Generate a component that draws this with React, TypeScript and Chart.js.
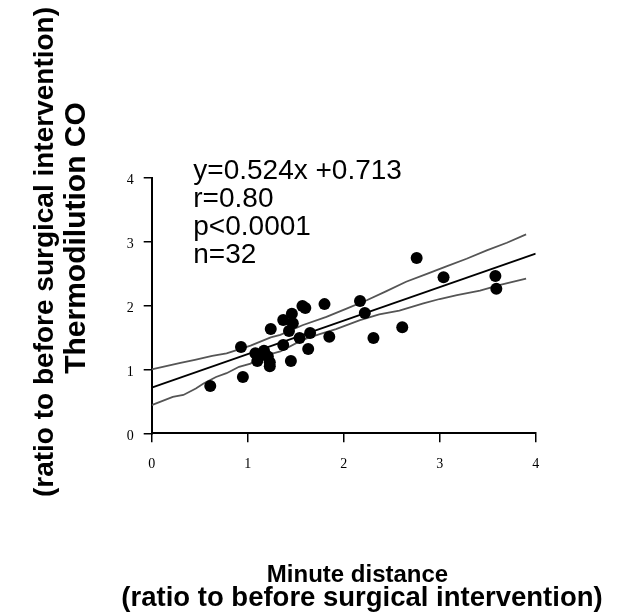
import React, { useEffect, useRef } from "react";
import { Chart, registerables } from "chart.js";

Chart.register(...registerables);

// Observed data points (ratio to before surgical intervention)
const minuteDistance = [
  0.61, 0.95, 0.93, 1.08, 1.10, 1.17, 1.21, 1.23, 1.23, 1.24, 1.37, 1.37, 1.46, 1.47, 1.43, 1.45,
  1.57, 1.60, 1.54, 1.65, 1.63, 1.80, 1.85, 2.17, 2.22, 2.31, 2.61, 2.76, 3.04, 3.58, 3.59, 1.15,
];
const thermodilutionCO = [
  0.74, 0.88, 1.35, 1.25, 1.13, 1.29, 1.20, 1.11, 1.05, 1.63, 1.38, 1.77, 1.87, 1.72, 1.60, 1.13,
  1.99, 1.96, 1.49, 1.57, 1.32, 2.02, 1.51, 2.07, 1.88, 1.49, 1.66, 2.74, 2.44, 2.46, 2.26, 1.23,
];

// Regression line y = 0.524x + 0.713 (end points)
const regressionX = [0, 4];
const regressionY = [0.713, 2.809];

// Confidence band
const upperBandX = [0, 0.3, 0.45, 0.63, 0.78, 1.03, 1.24, 1.34, 1.57, 1.82, 2.03, 2.24, 2.44, 2.65, 2.86, 3.07, 3.28, 3.49, 3.7, 3.9];
const upperBandY = [1.0, 1.1, 1.15, 1.21, 1.25, 1.37, 1.5, 1.54, 1.69, 1.82, 1.95, 2.08, 2.22, 2.37, 2.49, 2.61, 2.73, 2.86, 2.98, 3.11];
const lowerBandX = [0, 0.22, 0.33, 0.46, 0.54, 0.67, 0.78, 0.91, 1.03, 1.12, 1.34, 1.57, 1.75, 1.92, 2.17, 2.37, 2.58, 2.83, 3.0, 3.18, 3.42, 3.63, 3.9];
const lowerBandY = [0.44, 0.57, 0.6, 0.7, 0.78, 0.88, 0.94, 1.04, 1.09, 1.19, 1.28, 1.46, 1.55, 1.63, 1.77, 1.86, 1.92, 2.03, 2.1, 2.16, 2.23, 2.32, 2.42];

const xTickValues = [0, 1, 2, 3, 4];
const yTickValues = [0, 1, 2, 3, 4];

const statsLines = ["y=0.524x +0.713", "r=0.80", "p<0.0001", "n=32"];
const xTitleLines = ["Minute distance", "(ratio to before surgical intervention)"];
const yTitleLines = ["Thermodilution CO", "(ratio to before surgical intervention)"];

const W = 631;
const H = 612;

const zip = (xs: number[], ys: number[]) => xs.map((x, i) => ({ x, y: ys[i] }));

const textPlugin = {
  id: "texts",
  afterDraw(chart: any) {
    const ctx = chart.ctx as CanvasRenderingContext2D;
    const ca = chart.chartArea;
    ctx.save();
    ctx.fillStyle = "#000";
    // statistics annotation
    ctx.font = "28px 'Liberation Sans', Arial, sans-serif";
    ctx.textAlign = "left";
    ctx.textBaseline = "alphabetic";
    statsLines.forEach((t, i) => {
      ctx.fillText(t, ca.left + 41.6, ca.top + 1.8 + i * 28);
    });
    // x title
    ctx.textAlign = "center";
    ctx.font = "bold 24px 'Liberation Sans', Arial, sans-serif";
    ctx.fillText(xTitleLines[0], 357.5, 582);
    ctx.font = "bold 27.5px 'Liberation Sans', Arial, sans-serif";
    ctx.fillText(xTitleLines[1], 362, 606);
    // y title (rotated)
    ctx.save();
    ctx.translate(85, 238);
    ctx.rotate(-Math.PI / 2);
    ctx.font = "bold 30px 'Liberation Sans', Arial, sans-serif";
    ctx.fillText(yTitleLines[0], 0, 0);
    ctx.restore();
    ctx.save();
    ctx.translate(52.5, 252);
    ctx.rotate(-Math.PI / 2);
    ctx.font = "bold 28px 'Liberation Sans', Arial, sans-serif";
    ctx.fillText(yTitleLines[1], 0, 0);
    ctx.restore();
    ctx.restore();
  },
};

export default function App() {
  const ref = useRef<HTMLCanvasElement | null>(null);
  useEffect(() => {
    if (!ref.current) return;
    const chart = new Chart(ref.current, {
      type: "scatter",
      data: {
        datasets: [
          {
            label: "points",
            data: zip(minuteDistance, thermodilutionCO),
            backgroundColor: "#000",
            borderWidth: 0,
            pointRadius: 6,
            order: 0,
          },
          {
            label: "regression",
            data: zip(regressionX, regressionY),
            showLine: true,
            borderColor: "#000",
            borderWidth: 1.8,
            pointRadius: 0,
            order: 1,
          },
          {
            label: "upper",
            data: zip(upperBandX, upperBandY),
            showLine: true,
            borderColor: "#555",
            borderWidth: 1.8,
            pointRadius: 0,
            order: 2,
          },
          {
            label: "lower",
            data: zip(lowerBandX, lowerBandY),
            showLine: true,
            borderColor: "#555",
            borderWidth: 1.8,
            pointRadius: 0,
            order: 2,
          },
        ],
      },
      options: {
        responsive: false,
        animation: false,
        layout: { padding: { left: 0, top: 177.5, right: W - 535.7, bottom: 0 } },
        plugins: { legend: { display: false }, tooltip: { enabled: false } },
        scales: {
          x: {
            type: "linear",
            min: 0,
            max: 4,
            afterBuildTicks: (s: any) => {
              s.ticks = xTickValues.map((v) => ({ value: v }));
            },
            ticks: {
              font: { family: "'Liberation Serif', 'Times New Roman', serif", size: 14 },
              color: "#000",
              padding: 14,
              maxRotation: 0,
            },
            grid: { drawOnChartArea: false, drawTicks: true, tickLength: 9, color: "#000", lineWidth: 1.5 },
            border: { color: "#000", width: 2 },
            afterFit: (s: any) => {
              s.height = H - 433.3;
            },
          },
          y: {
            type: "linear",
            min: 0,
            max: 4,
            afterBuildTicks: (s: any) => {
              s.ticks = yTickValues.map((v) => ({ value: v }));
            },
            ticks: {
              font: { family: "'Liberation Serif', 'Times New Roman', serif", size: 14 },
              color: "#000",
              padding: 10,
              labelOffset: 3,
            },
            grid: { drawOnChartArea: false, drawTicks: true, tickLength: 8, color: "#000", lineWidth: 1.5 },
            border: { color: "#000", width: 2 },
            afterFit: (s: any) => {
              s.width = 151.7;
            },
          },
        },
      },
      plugins: [textPlugin],
    } as any);
    return () => chart.destroy();
  }, []);
  return (
    <div style={{ position: "fixed", left: 0, top: 0, width: W, height: H, background: "#fff" }}>
      <canvas ref={ref} width={W} height={H} style={{ display: "block", width: W, height: H }} />
    </div>
  );
}
